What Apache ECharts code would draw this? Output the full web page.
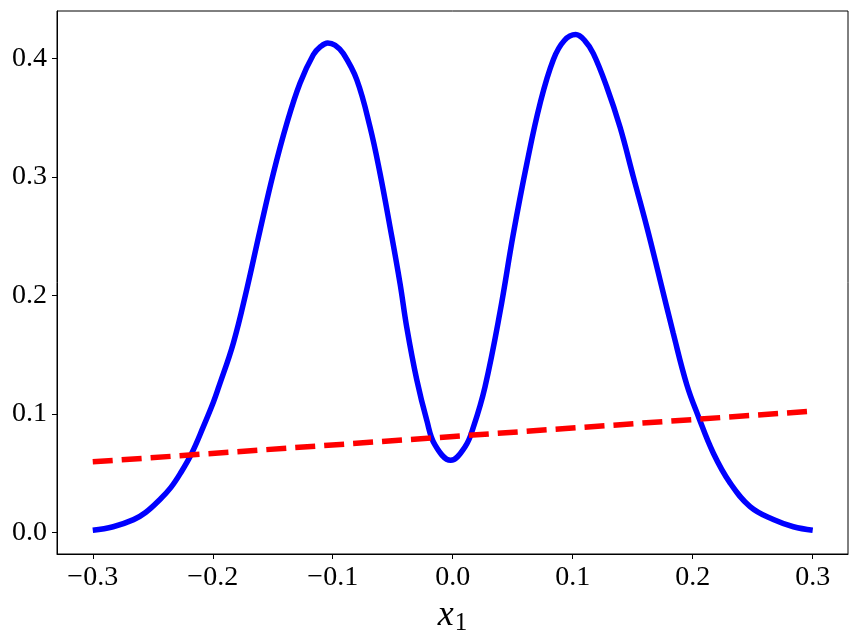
<!DOCTYPE html>
<html>
<head>
<meta charset="utf-8">
<script src="https://cdn.jsdelivr.net/npm/echarts@6/dist/echarts.min.js"></script>
<style>
  html, body { margin: 0; padding: 0; background: #fff; }
  #chart { width: 859px; height: 641px; }
</style>
</head>
<body>
<div id="chart"></div>
<script>
// blue curve
const curveX = [
  -0.300, -0.283, -0.266, -0.256, -0.244, -0.235, -0.227, -0.2175, -0.208, -0.1995,
  -0.1953, -0.1828, -0.1717, -0.1606, -0.1495, -0.1383, -0.1273, -0.1162, -0.110, -0.1042,
  -0.098, -0.0912, -0.080, -0.0689, -0.0606, -0.0523, -0.0439, -0.0383, -0.030, -0.0217,
  -0.0148, -0.0017, 0.0103, 0.0172, 0.0269, 0.0394, 0.0505, 0.0617, 0.0728, 0.0839,
  0.093, 0.1025, 0.110, 0.1172, 0.1283, 0.1394, 0.1505, 0.1617, 0.1728, 0.1838,
  0.195, 0.2047, 0.2172, 0.2311, 0.2478, 0.2672, 0.2839, 0.300
]
const curveY = [
  0.002, 0.005, 0.011, 0.017, 0.028, 0.038, 0.050, 0.067, 0.089, 0.110,
  0.122, 0.160, 0.205, 0.255, 0.303, 0.345, 0.379, 0.403, 0.410, 0.413,
  0.411, 0.404, 0.382, 0.342, 0.303, 0.258, 0.210, 0.173, 0.129, 0.095,
  0.074, 0.061, 0.0725, 0.089, 0.123, 0.186, 0.252, 0.311, 0.362, 0.399,
  0.415, 0.420, 0.415, 0.404, 0.376, 0.342, 0.300, 0.258, 0.213, 0.168,
  0.125, 0.098, 0.067, 0.042, 0.022, 0.011, 0.005, 0.002
]

// red dashed line
const lineX = [-0.3, 0.3]
const lineY = [0.0597, 0.1025]

const xTicks = [-0.3, -0.2, -0.1, 0.0, 0.1, 0.2, 0.3]
const yTicks = [0.0, 0.1, 0.2, 0.3, 0.4]

const zip = (xs, ys) => xs.map((x, i) => [x, ys[i]])
const fmt = v => v.toFixed(1).replace('-', '\u2212')

const chart = echarts.init(document.getElementById('chart'))

chart.setOption({
  animation: false,
  backgroundColor: '#fff',
  grid: {
    left: 57,
    right: 11,
    top: 11,
    bottom: 87,
    outerBoundsMode: 'none',
    containLabel: false,
    show: true,
    borderColor: '#000',
    borderWidth: 1,
    backgroundColor: 'transparent'
  },
  xAxis: {
    type: 'value',
    min: -0.3298,
    max: 0.3294,
    name: '{i|x}{s|1}',
    nameLocation: 'middle',
    nameGap: 41,
    nameTextStyle: {
      rich: {
        i: { fontFamily: 'Liberation Serif', fontStyle: 'italic', fontSize: 36, color: '#000' },
        s: { fontFamily: 'Liberation Serif', fontSize: 25, color: '#000', padding: [16, 0, 0, 1] }
      }
    },
    splitLine: { show: false },
    axisLine: { show: true, onZero: false, lineStyle: { color: '#000', width: 1 } },
    axisTick: { show: true, length: 5, customValues: xTicks, lineStyle: { color: '#000' } },
    axisLabel: {
      customValues: xTicks,
      formatter: fmt,
      margin: 10,
      fontFamily: 'Liberation Serif',
      fontSize: 28,
      color: '#000'
    }
  },
  yAxis: {
    type: 'value',
    min: -0.018,
    max: 0.4399,
    splitLine: { show: false },
    axisLine: { show: true, onZero: false, lineStyle: { color: '#000', width: 1 } },
    axisTick: { show: true, length: 5, customValues: yTicks, lineStyle: { color: '#000' } },
    axisLabel: {
      customValues: yTicks,
      formatter: fmt,
      margin: 10,
      fontFamily: 'Liberation Serif',
      fontSize: 28,
      color: '#000'
    }
  },
  series: [
    {
      type: 'line',
      data: zip(curveX, curveY),
      showSymbol: false,
      smooth: 0.4,
      lineStyle: { color: '#0000ff', width: 5.5 },
      z: 2
    },
    {
      type: 'line',
      data: zip(lineX, lineY),
      showSymbol: false,
      lineStyle: { color: '#ff0000', width: 5.5, type: [20, 9], cap: 'butt' },
      z: 3
    }
  ]
})
</script>
</body>
</html>
